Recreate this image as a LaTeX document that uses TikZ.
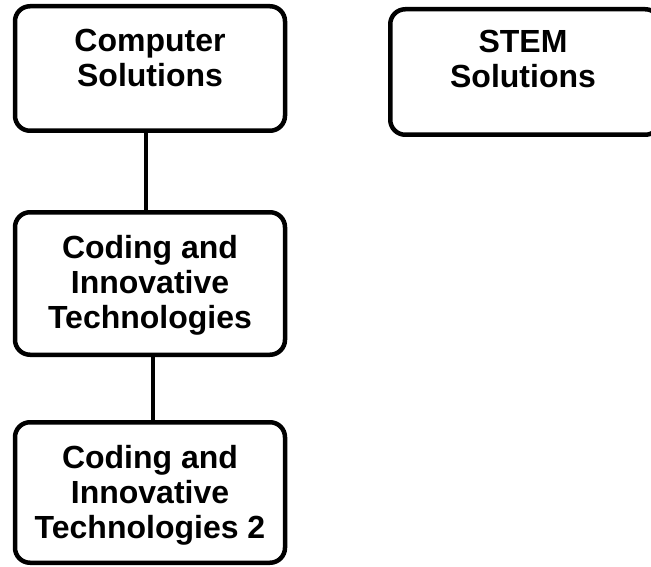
\documentclass[tikz,border=0pt]{standalone}
\usepackage{fontspec}
\setmainfont{Liberation Sans}
\begin{document}
\begin{tikzpicture}[x=1pt,y=-1pt,
  box/.style={draw=black, line width=4.5pt, rounded corners=15pt, inner sep=0pt, fill=white},
  lbl/.style={align=center, inner sep=0pt, font=\bfseries\fontsize{32}{35}\selectfont},
  link/.style={draw=black, line width=4.5pt}]
\useasboundingbox (0,0) rectangle (651,567);
\node[box, minimum width=270pt, minimum height=124.5pt] (b1) at (150,68.5) {};
\node[box, minimum width=270pt, minimum height=125.5pt] (b4) at (525.25,72) {};
\node[box, minimum width=270pt, minimum height=142.5pt] (b2) at (150,283.5) {};
\node[box, minimum width=270pt, minimum height=140.5pt] (b3) at (150,492.5) {};
\node[lbl] (t1) at (150,58) {Computer\\Solutions};
\node[lbl] (t4) at (523,59) {STEM\\Solutions};
\node[lbl] (t2) at (150,285) {Coding and\\Innovative\\Technologies};
\node[lbl] (t3) at (150,495) {Coding and\\Innovative\\Technologies 2};
\coordinate (x1) at (146,0);
\coordinate (x2) at (153,0);
\draw[link] (b1.south -| x1) -- (b2.north -| x1);
\draw[link] (b2.south -| x2) -- (b3.north -| x2);
\end{tikzpicture}
\end{document}
